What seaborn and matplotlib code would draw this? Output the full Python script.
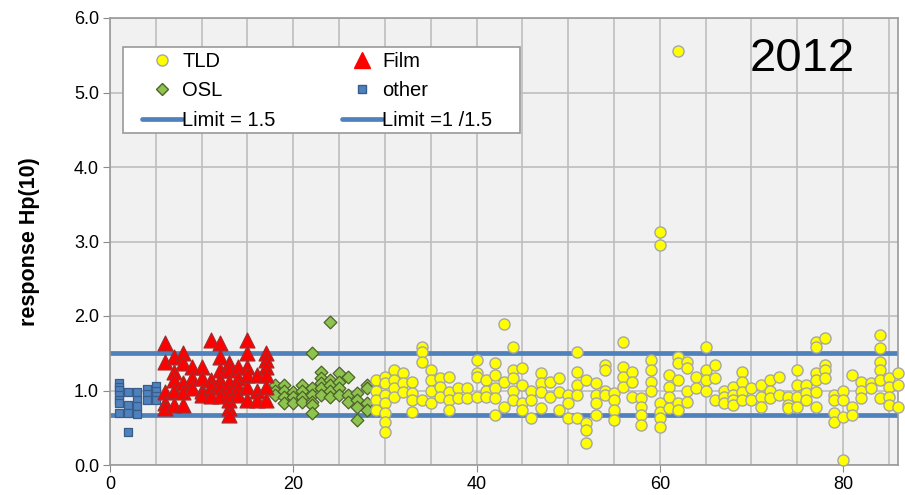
import numpy as np
import pandas as pd
import matplotlib
matplotlib.use("Agg")
import matplotlib.pyplot as plt
from matplotlib.lines import Line2D
from matplotlib.patches import Rectangle
from matplotlib.ticker import MultipleLocator, FormatStrFormatter
import seaborn as sns

# ---------------- data ----------------
other_ids = [1, 2, 3, 4, 5]
other_vals = [
    [1.10, 1.05, 1.01, 0.94, 0.87, 0.83, 0.70],
    [0.98, 0.81, 0.70, 0.44],
    [0.98, 0.87, 0.79, 0.68],
    [1.02, 0.95, 0.87],
    [1.06, 1.00, 0.93, 0.87],
]

film_ids = [6, 7, 8, 9, 10, 11, 12, 13, 14, 15, 16, 17]
film_vals = [
    [1.64, 1.38, 0.98, 0.83, 0.77],
    [1.45, 1.25, 1.14, 1.00, 0.80],
    [1.50, 1.37, 1.10, 0.98, 0.80],
    [1.32, 1.17, 1.03],
    [1.32, 1.17, 1.00, 0.94],
    [1.68, 1.14, 1.05, 0.92],
    [1.64, 1.45, 1.28, 1.14, 1.05, 0.92],
    [1.37, 1.28, 1.12, 0.98, 0.87, 0.76, 0.67],
    [1.32, 1.17, 1.05, 0.94],
    [1.68, 1.50, 1.32, 1.21, 1.05, 0.87],
    [1.21, 1.00, 0.87],
    [1.50, 1.41, 1.32, 1.21, 1.05, 0.87],
]

osl_ids = [18, 19, 20, 21, 22, 23, 24, 25, 26, 27, 28]
osl_vals = [
    [1.07, 1.00, 0.94],
    [1.07, 1.00, 0.91, 0.83],
    [0.98, 0.91, 0.83],
    [1.07, 1.00, 0.91, 0.85],
    [1.50, 1.03, 0.94, 0.85, 0.81, 0.70],
    [1.25, 1.17, 1.10, 1.03, 0.94],
    [1.92, 1.14, 1.07, 1.00, 0.91],
    [1.23, 1.11, 1.03, 0.94],
    [1.18, 0.94, 0.85],
    [0.97, 0.87, 0.78, 0.60],
    [1.07, 1.03, 0.83, 0.74],
]

tld_ids = list(range(29, 87))
tld_vals = [
    [1.14, 1.00, 0.87, 0.74],                 # 29
    [1.18, 1.10, 0.94, 0.83, 0.70, 0.58, 0.44],  # 30
    [1.28, 1.14, 1.03, 0.91],                 # 31
    [1.23, 1.10, 0.98],                       # 32
    [1.11, 0.97, 0.87, 0.71],                 # 33
    [1.58, 1.52, 1.38, 0.87],                 # 34
    [1.28, 1.14, 1.00, 0.83],                 # 35
    [1.17, 1.05, 0.91],                       # 36
    [1.18, 0.98, 0.87, 0.74],                 # 37
    [1.03, 0.90],                             # 38
    [1.03, 0.90],                             # 39
    [1.41, 1.23, 1.18, 0.91],                 # 40
    [1.14, 1.00, 0.91],                       # 41
    [1.37, 1.21, 1.03, 0.90, 0.67],           # 42
    [1.89, 1.11, 0.78],                       # 43
    [1.58, 1.28, 1.17, 1.00, 0.87],           # 44
    [1.30, 1.07, 0.83, 0.74],                 # 45
    [1.00, 0.87, 0.63],                       # 46
    [1.23, 1.10, 0.98, 0.76],                 # 47
    [1.11, 0.91],                             # 48
    [1.17, 0.98, 0.74],                       # 49
    [0.94, 0.83, 0.63],                       # 50
    [1.52, 1.25, 1.07, 0.94, 0.63],           # 51
    [1.14, 0.56, 0.47, 0.30],                 # 52
    [1.10, 0.94, 0.83, 0.67],                 # 53
    [1.34, 1.28, 1.00, 0.94],                 # 54
    [0.97, 0.87, 0.74, 0.60],                 # 55
    [1.65, 1.32, 1.18, 1.05],                 # 56
    [1.25, 1.11, 0.91],                       # 57
    [0.90, 0.78, 0.67, 0.54],                 # 58
    [1.41, 1.28, 1.11, 1.00],                 # 59
    [3.13, 2.95, 0.83, 0.71, 0.63, 0.51],     # 60
    [1.21, 1.05, 0.91, 0.76],                 # 61
    [5.56, 1.45, 1.37, 1.14, 0.83, 0.74],     # 62
    [1.38, 1.30, 1.00, 0.85],                 # 63
    [1.18, 1.03],                             # 64
    [1.58, 1.28, 1.14, 1.00],                 # 65
    [1.34, 1.17, 0.87],                       # 66
    [1.00, 0.91, 0.83],                       # 67
    [1.05, 0.94, 0.87, 0.81],                 # 68
    [1.25, 1.11, 0.98, 0.87],                 # 69
    [1.03, 0.87],                             # 70
    [1.07, 0.91, 0.78],                       # 71
    [1.14, 1.00, 0.90],                       # 72
    [1.18, 0.94],                             # 73
    [0.91, 0.81, 0.76],                       # 74
    [1.28, 1.07, 0.91, 0.78],                 # 75
    [1.07, 0.97, 0.87],                       # 76
    [1.65, 1.58, 1.23, 1.14, 0.98, 0.78],     # 77
    [1.70, 1.34, 1.28, 1.17],                 # 78
    [0.94, 0.87, 0.70, 0.58],                 # 79
    [1.00, 0.87, 0.64, 0.07],                 # 80
    [1.21, 0.78, 0.67],                       # 81
    [1.11, 1.00, 0.90],                       # 82
    [1.10, 1.03],                             # 83
    [1.74, 1.57, 1.38, 1.28, 1.14, 0.90],     # 84
    [1.17, 1.05, 0.91, 0.81],                 # 85
    [1.23, 1.07, 0.78],                       # 86
]

limit_values = [1.5, 1 / 1.5]
x_ticks = [0, 20, 40, 60, 80]
y_ticks = [0, 1, 2, 3, 4, 5, 6]


def expand(ids, vals, kind):
    rows = []
    for i, vs in zip(ids, vals):
        for v in vs:
            rows.append((i, v, kind))
    return rows


rows = (expand(other_ids, other_vals, "other") + expand(film_ids, film_vals, "Film")
        + expand(osl_ids, osl_vals, "OSL") + expand(tld_ids, tld_vals, "TLD"))
df = pd.DataFrame(rows, columns=["participant", "response", "type"])

# ---------------- style ----------------
sns.set_style("white")
plt.rcParams["font.family"] = ["Liberation Sans", "DejaVu Sans"]
plt.rcParams["text.color"] = "black"
plt.rcParams["axes.labelcolor"] = "black"
plt.rcParams["xtick.labelcolor"] = "black"
plt.rcParams["ytick.labelcolor"] = "black"

fig = plt.figure(figsize=(9.05, 4.95), dpi=100)
ax = fig.add_axes([110 / 905, 30 / 495, 788 / 905, 447 / 495])
ax.set_facecolor("#F1F1F1")

blue = "#4F81BD"
styles = {
    "OSL":   dict(marker="D", s=42, color="#8DC450", edgecolor="#4F6228", linewidth=0.9, zorder=3),
    "Film":  dict(marker="^", s=115, color="#FF0000", edgecolor="#A52A2A", linewidth=0.9, zorder=4),
    "other": dict(marker="s", s=40, color="#4F81BD", edgecolor="#385D8A", linewidth=0.9, zorder=3),
    "TLD":   dict(marker="o", s=64, color="#FFFF00", edgecolor="#A6A6A6", linewidth=1.0, zorder=5),
}
for kind in ["OSL", "Film", "other", "TLD"]:
    st = styles[kind]
    sns.scatterplot(data=df[df["type"] == kind], x="participant", y="response",
                    ax=ax, legend=False, clip_on=False, **st)

for lv in limit_values:
    ax.axhline(lv, color=blue, lw=3.4, zorder=2)

ax.set_xlim(0, 86)
ax.set_ylim(0, 6)
ax.set_xticks(x_ticks)
ax.xaxis.set_minor_locator(MultipleLocator(5))
ax.set_yticks(y_ticks)
ax.yaxis.set_major_formatter(FormatStrFormatter("%.1f"))
ax.grid(True, which="major", axis="both", color="#BEBEBE", lw=1.2, zorder=0)
ax.grid(True, which="minor", axis="x", color="#BEBEBE", lw=1.2, zorder=0)
ax.set_axisbelow(True)
for sp in ax.spines.values():
    sp.set_color("#9A9A9A")
    sp.set_linewidth(1.2)
ax.tick_params(axis="both", which="major", labelsize=13, length=5, color="#8A8A8A",
               direction="out", left=True, bottom=True, pad=3)
ax.tick_params(axis="x", which="minor", length=0)
ax.set_xlabel("")
ax.set_ylabel("response Hp(10)", fontsize=15.5, fontweight="bold", labelpad=24)

ax.text((802 - 110) / 788, (465 - 59) / 447, "2012", transform=ax.transAxes,
        ha="center", va="center", fontsize=34, color="black", zorder=6)

# legend
frame = Rectangle(((123 - 110) / 788, (465 - 133) / 447), (520 - 123) / 788, 86 / 447,
                  transform=ax.transAxes, facecolor="white", edgecolor="#9A9A9A",
                  lw=1.2, zorder=6)
ax.add_patch(frame)
handles = [
    Line2D([], [], marker="o", ls="", markersize=8, markerfacecolor="#FFFF00",
           markeredgecolor="#A6A6A6", label="TLD"),
    Line2D([], [], marker="D", ls="", markersize=6, markerfacecolor="#8DC450",
           markeredgecolor="#4F6228", label="OSL"),
    Line2D([], [], color=blue, lw=3.4, label="Limit = 1.5"),
    Line2D([], [], marker="^", ls="", markersize=11, markerfacecolor="#FF0000",
           markeredgecolor="#FF0000", label="Film"),
    Line2D([], [], marker="s", ls="", markersize=6, markerfacecolor="#4F81BD",
           markeredgecolor="#385D8A", label="other"),
    Line2D([], [], color=blue, lw=3.4, label="Limit =1 /1.5"),
]
leg = ax.legend(handles=handles, ncol=2, loc="upper left",
                bbox_to_anchor=((142 - 110) / 788, (465 - 52) / 447),
                frameon=False, fontsize=14.5, handlelength=2.0, handletextpad=0.0,
                columnspacing=3.3, labelspacing=0.52, borderpad=0, borderaxespad=0)
leg.set_zorder(7)

fig.savefig("out.png", dpi=100)
